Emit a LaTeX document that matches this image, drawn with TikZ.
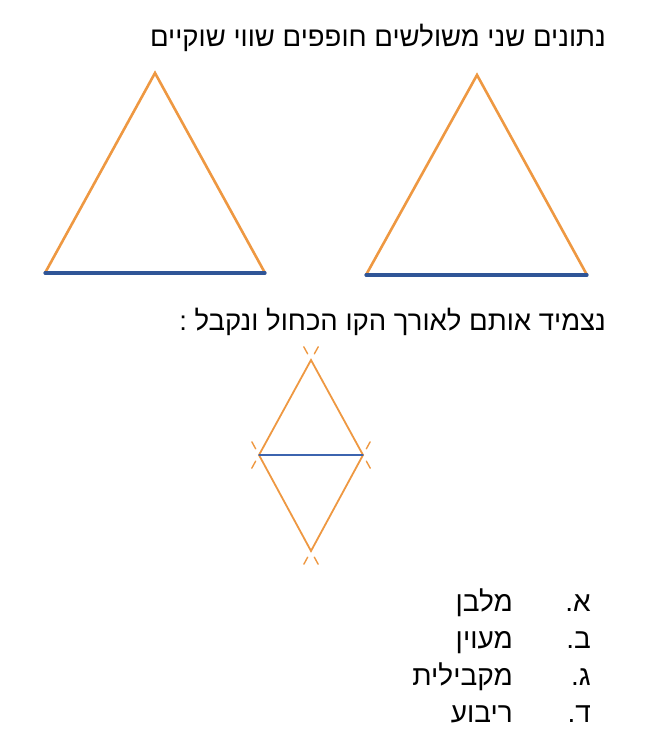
\documentclass[tikz,border=0pt]{standalone}
\usepackage{fontspec}
\setmainfont{Liberation Sans}
\newfontfamily\hebfont[Script=Hebrew]{Liberation Sans}
\TeXXeTstate=1
\usetikzlibrary{calc}
\definecolor{sideorange}{RGB}{238,152,66}
\definecolor{baseblue}{RGB}{47,85,151}
\definecolor{midblue}{RGB}{60,100,175}

\begin{document}
\begin{tikzpicture}[line cap=round,
  heb/.style={font=\hebfont\fontsize{27.5}{32}\selectfont, anchor=base east, inner sep=0pt},
  opt/.style={font=\hebfont\fontsize{28}{32}\selectfont, anchor=base east, inner sep=0pt},
  side/.style={draw=sideorange, line width=2.6pt},
  base/.style={draw=baseblue, line width=3.2pt},
  rhomb/.style={draw=sideorange, line width=1.8pt},
  tick/.style={draw=sideorange, line width=1.4pt}]
  \useasboundingbox (0pt, 0pt) rectangle (669pt, -743pt);
  \draw (606.0pt, -47.0pt)node[heb](given){\beginR נתונים שני משולשים חופפים שווי שוקיים\endR};
  \draw (606.0pt, -330.0pt)node[heb](glue){\beginR נצמיד אותם לאורך הקו הכחול ונקבל :\endR};
  % two triangles
  \draw (155.0pt, -73.0pt)coordinate(l0);
  \draw (45.0pt, -273.0pt)coordinate(l1);
  \draw (265.0pt, -273.0pt)coordinate(l2);
  \draw (477.0pt, -75.0pt)coordinate(r0);
  \draw (366.0pt, -275.0pt)coordinate(r1);
  \draw (587.0pt, -275.0pt)coordinate(r2);
  \draw[side] (l1) -- (l0) -- (l2);
  \draw[base] (l1) -- (l2);
  \draw[side] (r1) -- (r0) -- (r2);
  \draw[base] (r1) -- (r2);
  % rhombus
  \draw (311.0pt, -360.0pt)coordinate(m0);
  \draw (259.0pt, -455.0pt)coordinate(m1);
  \draw (363.0pt, -455.0pt)coordinate(m2);
  \draw (311.0pt, -551.0pt)coordinate(m3);
  \draw[rhomb] (m0) -- (m1) -- (m3) -- (m2) -- cycle;
  \draw[draw=midblue, line width=1.3pt] (m1) -- (m2);
  \draw[tick] ($(m0)!-7pt!(m1)$) -- ($(m0)!-15pt!(m1)$);
  \draw[tick] ($(m0)!-7pt!(m2)$) -- ($(m0)!-15pt!(m2)$);
  \draw[tick] ($(m1)!-7pt!(m0)$) -- ($(m1)!-15pt!(m0)$);
  \draw[tick] ($(m1)!-7pt!(m3)$) -- ($(m1)!-15pt!(m3)$);
  \draw[tick] ($(m2)!-7pt!(m0)$) -- ($(m2)!-15pt!(m0)$);
  \draw[tick] ($(m2)!-7pt!(m3)$) -- ($(m2)!-15pt!(m3)$);
  \draw[tick] ($(m3)!-7pt!(m1)$) -- ($(m3)!-15pt!(m1)$);
  \draw[tick] ($(m3)!-7pt!(m2)$) -- ($(m3)!-15pt!(m2)$);
  % answers
  \draw (591.0pt, -611.0pt)node[opt](a){\beginR א.\endR};
  \draw (513.0pt, -611.0pt)node[opt](rect){\beginR מלבן\endR};
  \draw (591.0pt, -648.0pt)node[opt](b){\beginR ב.\endR};
  \draw (513.0pt, -648.0pt)node[opt](rhombus){\beginR מעוין\endR};
  \draw (591.0pt, -685.0pt)node[opt](c){\beginR ג.\endR};
  \draw (513.0pt, -685.0pt)node[opt](para){\beginR מקבילית\endR};
  \draw (591.0pt, -722.0pt)node[opt](d){\beginR ד.\endR};
  \draw (513.0pt, -722.0pt)node[opt](square){\beginR ריבוע\endR};
\end{tikzpicture}
\end{document}
